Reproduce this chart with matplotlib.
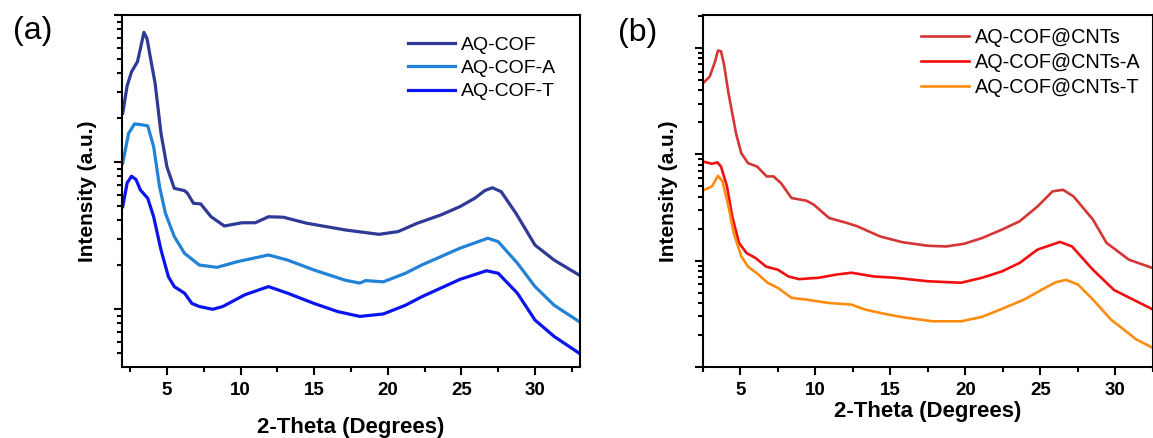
import numpy as np
import matplotlib.pyplot as plt
from matplotlib.ticker import LogLocator, MultipleLocator, NullFormatter

plt.rcParams['font.family'] = ['Liberation Sans', 'DejaVu Sans']

# panel (a) - AQ-COF samples
xa_cof = [2.0, 2.3, 2.6, 3.0, 3.2, 3.44, 3.65, 3.9, 4.2, 4.6, 5.0, 5.5, 6.2, 6.4, 6.8, 7.3, 8.0, 8.9, 10.1, 11.0,
          11.9, 12.9, 14.5, 17.1, 19.4, 20.7, 22.0, 23.6, 24.9, 25.9, 26.6, 27.1, 27.7, 28.7, 30.0, 31.3, 33.0]
ya_cof = [2143, 3300, 4110, 4808, 5900, 7620, 6900, 5000, 3428, 1567, 929, 662, 638, 612, 524, 518, 424, 367, 386, 386,
          424, 421, 383, 345, 322, 336, 383, 436, 497, 566, 640, 668, 628, 448, 272, 215, 170]

xa_a = [2.0, 2.4, 2.8, 3.3, 3.7, 4.1, 4.5, 4.9, 5.5, 6.2, 7.2, 8.4, 9.8, 11.9, 13.2, 15.0, 17.1,
        18.1, 18.5, 19.7, 21.2, 22.3, 24.9, 26.8, 27.5, 28.8, 30.0, 31.3, 33.0]
ya_a = [980, 1567, 1815, 1790, 1760, 1271, 679, 448, 311, 239, 199, 192, 210, 233, 215, 184, 157,
        150, 156, 153, 175, 199, 259, 303, 287, 205, 142, 106, 82]

xa_t = [2.0, 2.3, 2.6, 2.9, 3.2, 3.7, 4.1, 4.6, 5.1, 5.5, 6.2, 6.7, 7.2, 8.1, 8.8, 10.3, 11.9, 13.2,
        15.0, 16.6, 18.1, 19.7, 21.2, 22.3, 24.9, 26.7, 27.5, 28.8, 30.0, 31.3, 33.0]
ya_t = [497, 720, 800, 760, 645, 566, 424, 252, 166, 142, 128, 109, 104, 99.5, 104, 125, 142, 128,
        109, 96, 89, 92.5, 106, 121, 159, 182, 175, 128, 84, 65, 50]

# panel (b) - AQ-COF@CNTs samples
xb_cnt = [2.5, 2.95, 3.3, 3.5, 3.7, 3.9, 4.2, 4.7, 5.05, 5.5, 6.1, 6.75, 7.2, 7.7, 8.4, 9.4, 9.9, 10.9,
          12.1, 12.8, 14.3, 15.8, 17.5, 18.7, 19.9, 21.1, 22.4, 23.6, 24.8, 25.8, 26.5, 27.2, 28.5,
          29.4, 30.9, 32.5]
yb_cnt = [4660, 5380, 7430, 9450, 9300, 7000, 3760, 1581, 1026, 826, 768, 619, 620, 536, 388, 366, 335, 252,
          226, 210, 169, 149, 138, 136, 144, 163, 195, 234, 323, 448, 464, 402, 243,
          147, 102, 85]

xb_a = [2.5, 3.1, 3.45, 3.7, 4.1, 4.45, 4.9, 5.4, 6.0, 6.7, 7.5, 8.2, 8.9, 10.2, 11.4, 12.4, 13.9,
        15.3, 17.5, 19.7, 21.1, 22.4, 23.6, 24.8, 26.3, 27.1, 28.5, 29.9, 31.4, 32.5]
yb_a = [855, 814, 840, 768, 499, 261, 147, 118, 106, 88, 82, 71, 67, 69, 74, 77, 71,
        69, 64, 62, 69, 79, 95, 127, 150, 136, 82, 53, 41.5, 34.7]

xb_t = [2.5, 3.1, 3.5, 3.8, 4.2, 4.55, 5.05, 5.5, 6.2, 6.8, 7.5, 8.4, 9.4, 10.9, 12.4, 13.3, 14.6,
        15.8, 17.8, 19.7, 21.1, 22.6, 23.9, 25.1, 26.0, 26.7, 27.5, 28.5, 29.7, 31.4, 32.5]
yb_t = [457, 499, 628, 556, 323, 182, 110, 88, 74, 62, 55.4, 44.7, 43, 40, 38.6, 34.7, 31.6,
        29.4, 26.9, 26.9, 29.6, 36, 43, 53.5, 62.5, 66, 59.6, 43, 27.9, 18.1, 15.1]

fig = plt.figure(figsize=(11.53, 4.38), dpi=100)
ax1 = fig.add_axes([0.1058, 0.1621, 0.3972, 0.8037])
ax2 = fig.add_axes([0.6097, 0.1621, 0.3903, 0.8037])

ax1.plot(xa_cof, ya_cof, color='#2E3A96', lw=2.3, label='AQ-COF')
ax1.plot(xa_a, ya_a, color='#2182D6', lw=2.3, label='AQ-COF-A')
ax1.plot(xa_t, ya_t, color='#0A14EE', lw=2.3, label='AQ-COF-T')
ax1.set_xlim(1.95, 33.05)
ax1.set_ylim(40.3, 10000)

ax2.plot(xb_cnt, yb_cnt, color='#D53535', lw=1.9, label='AQ-COF@CNTs')
ax2.plot(xb_a, yb_a, color='#F20E0E', lw=1.9, label='AQ-COF@CNTs-A')
ax2.plot(xb_t, yb_t, color='#FF8C10', lw=1.9, label='AQ-COF@CNTs-T')
ax2.set_xlim(2.5, 32.5)
ax2.set_ylim(10, 10 ** 4.31)

for ax in (ax1, ax2):
    ax.set_yscale('log')
    ax.yaxis.set_major_locator(LogLocator(base=10))
    ax.yaxis.set_minor_locator(LogLocator(base=10, subs=np.arange(2, 10)))
    ax.yaxis.set_major_formatter(NullFormatter())
    ax.yaxis.set_minor_formatter(NullFormatter())
    ax.xaxis.set_major_locator(MultipleLocator(5))
    ax.xaxis.set_minor_locator(MultipleLocator(2.5))
    ax.tick_params(which='major', direction='out', length=6, width=1.5, labelsize=13.5, pad=5)
    ax.tick_params(which='minor', direction='out', length=3.5, width=1.5)
    for lab in ax.get_xticklabels():
        lab.set_fontweight('bold')
    for sp in ax.spines.values():
        sp.set_linewidth(1.5)
    ax.set_ylabel('Intensity (a.u.)', fontsize=15, fontweight='bold', labelpad=7)
    ax.set_xlabel('2-Theta (Degrees)', fontsize=16, fontweight='bold')

ax1.xaxis.labelpad = 13
ax2.xaxis.labelpad = 1

leg_kw = dict(loc='upper right', frameon=False, fontsize=14, handlelength=2.4,
              labelspacing=0.3, handletextpad=0.3)
ax1.legend(bbox_to_anchor=(0.985, 0.99), **leg_kw)
ax2.legend(bbox_to_anchor=(1.012, 1.013), prop={'size': 14.3}, **{k: v for k, v in leg_kw.items() if k != 'fontsize'})

fig.text(0.028, 0.93, '(a)', fontsize=23, ha='center', va='center')
fig.text(0.553, 0.925, '(b)', fontsize=23, ha='center', va='center')

fig.savefig('out.png', dpi=100)
